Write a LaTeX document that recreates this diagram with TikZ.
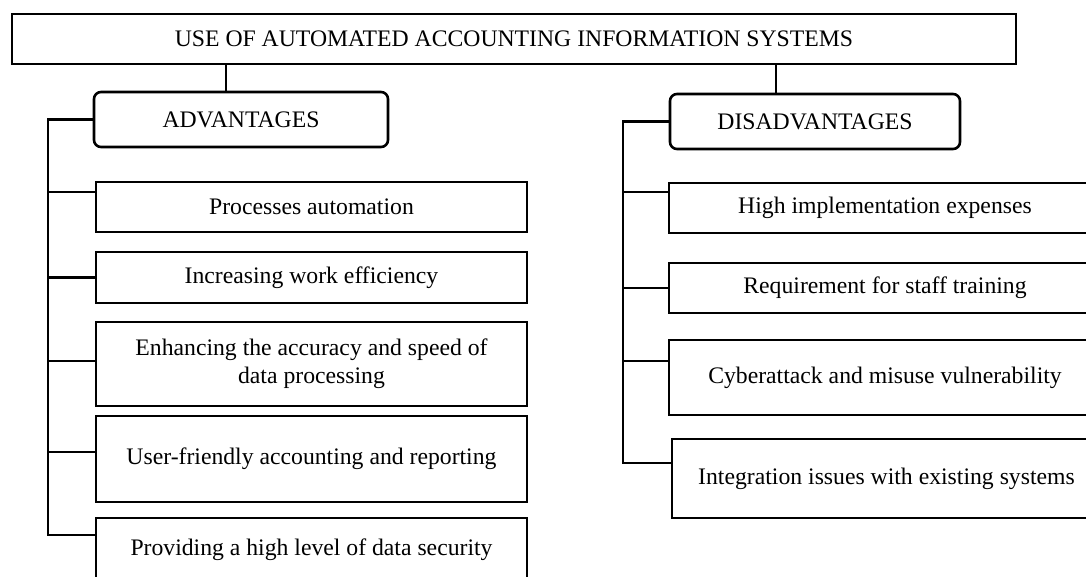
\documentclass[tikz,border=0pt]{standalone}
\usepackage{fontspec}
\setmainfont{Liberation Serif}
\usetikzlibrary{calc}
\begin{document}
\begin{tikzpicture}[x=1pt,y=-1pt,
  txt/.style={font=\fontsize{23.7}{28}\selectfont},
  box/.style={draw, line width=2.6pt, txt, inner sep=0pt, align=center},
  headbox/.style={box, rounded corners=7pt},
  link/.style={line width=2.2pt}
]
\useasboundingbox (0,0) rectangle (1086,576);
\clip (0,0) rectangle (1086,576);

% title
\node[box, minimum width=1004pt, minimum height=50pt] (top) at (514,39)
  {USE OF AUTOMATED ACCOUNTING INFORMATION SYSTEMS};

% group headers
\node[headbox, minimum width=294pt, minimum height=55pt] (adv) at (241,119.5) {ADVANTAGES};
\node[headbox, minimum width=290pt, minimum height=55pt] (dis) at (815,121.5) {DISADVANTAGES};

% advantages
\node[box, minimum width=431pt, minimum height=50pt] (a1) at (311.5,207) {Processes automation};
\node[box, minimum width=431pt, minimum height=51pt] (a2) at (311.5,277.5) {Increasing work efficiency};
\node[box, minimum width=431pt, minimum height=84pt] (a3) at (311.5,364)
  {Enhancing the accuracy and speed of\\data processing};
\node[box, minimum width=431pt, minimum height=86pt] (a4) at (311.5,459) {User-friendly accounting and reporting};
\node[box, minimum width=431pt, minimum height=64pt] (a5) at (311.5,550) {Providing a high level of data security};

% disadvantages
\node[box, minimum width=432pt, minimum height=50pt] (d1) at (885,208) {High implementation expenses};
\node[box, minimum width=432pt, minimum height=50pt] (d2) at (885,288) {Requirement for staff training};
\node[box, minimum width=432pt, minimum height=75pt] (d3) at (885,377.5) {Cyberattack and misuse vulnerability};
\node[box, minimum width=429pt, minimum height=79pt] (d4) at (886.5,478.5) {Integration issues with existing systems};

% attachment points on the boxes
\coordinate (pa) at ($(adv.north west)+(133,0)$);
\coordinate (pd) at ($(dis.north west)+(107,0)$);
\coordinate (ta1) at ($(a1.north west)+(0,11)$);
\coordinate (ta3) at ($(a3.west)+(0,-3)$);
\coordinate (ta4) at ($(a4.west)+(0,-7)$);
\coordinate (ta5) at ($(a5.north west)+(0,18)$);
\coordinate (td1) at ($(d1.north west)+(0,10)$);
\coordinate (td3) at ($(d3.west)+(0,-16.5)$);
\coordinate (td4) at ($(d4.north west)+(0,25)$);

% title to headers
\draw[link] (pa) -- (pa |- top.south);
\draw[link] (pd) -- (pd |- top.south);

% left spine
\coordinate (ls) at (48,0);
\draw[link] (adv.west) -- (adv.west -| ls) -- (ta5 -| ls) -- (ta5);
\draw[link] (ta1 -| ls) -- (ta1);
\draw[link] (a2.west -| ls) -- (a2.west);
\draw[link] (ta3 -| ls) -- (ta3);
\draw[link] (ta4 -| ls) -- (ta4);

% right spine
\coordinate (rs) at (623,0);
\draw[link] (dis.west) -- (dis.west -| rs) -- (td4 -| rs) -- (td4);
\draw[link] (td1 -| rs) -- (td1);
\draw[link] (d2.west -| rs) -- (d2.west);
\draw[link] (td3 -| rs) -- (td3);
\end{tikzpicture}
\end{document}
